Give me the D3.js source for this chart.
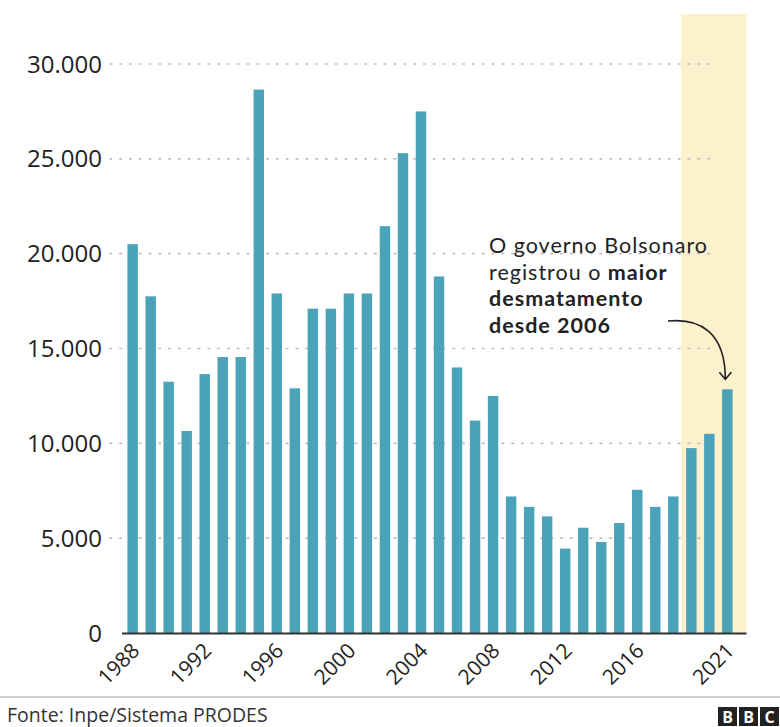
<!DOCTYPE html>
<html>
<head>
<meta charset="utf-8">
<script src="https://cdn.jsdelivr.net/npm/d3@7"></script>
<style>
  body { margin: 0; background: #fff; }
  text { font-family: "Open Sans", "Noto Sans", sans-serif; }
</style>
</head>
<body>
<script>
// desmatamento anual na Amazônia Legal (km²)
const years = d3.range(1988, 2022);
const values = [20500, 17750, 13250, 10650, 13650, 14550, 14550, 28650, 17900, 12900,
  17100, 17100, 17900, 17900, 21450, 25300, 27500, 18800, 14000, 11200,
  12500, 7200, 6650, 6150, 4450, 5550, 4800, 5800, 7550, 6650,
  7200, 9750, 10500, 12850];
const yTicks = [0, 5000, 10000, 15000, 20000, 25000, 30000];
const xLabels = [1988, 1992, 1996, 2000, 2004, 2008, 2012, 2016, 2021];
const highlight = [2019, 2021];
const noteLines = [
  [["O governo Bolsonaro", false]],
  [["registrou o ", false], ["maior", true]],
  [["desmatamento", true]],
  [["desde 2006", true]]
];
const source = "Fonte: Inpe/Sistema PRODES";

const width = 780, height = 727;
const svg = d3.select("body").append("svg")
  .attr("width", width)
  .attr("height", height);

const x = d3.scaleBand()
  .domain(years)
  .range([122, 738])
  .paddingInner(0.42)
  .paddingOuter(0.3);

const y = d3.scaleLinear()
  .domain([0, 30000])
  .range([633, 64]);

const fmt = d3.formatLocale({ decimal: ",", thousands: ".", grouping: [3], currency: ["", ""] }).format(",d");

// faixa do governo Bolsonaro
const step = x.step();
const hx0 = x(highlight[0]) - step * 0.5 + 4;
const hx1 = x(highlight[1]) + x.bandwidth() + step * 0.55 + 4;
svg.append("rect")
  .attr("x", hx0)
  .attr("y", 14)
  .attr("width", hx1 - hx0)
  .attr("height", y(0) - 14)
  .attr("fill", "#fdf0cc");

// grade pontilhada
svg.append("g")
  .selectAll("line")
  .data(yTicks.filter(d => d > 0))
  .join("line")
  .attr("x1", 110)
  .attr("x2", 716)
  .attr("y1", d => y(d))
  .attr("y2", d => y(d))
  .attr("stroke", "#bdbdbd")
  .attr("stroke-width", 1.6)
  .attr("stroke-dasharray", "1.6,8.2")
  .attr("stroke-linecap", "round");

// rótulos do eixo y
svg.append("g")
  .selectAll("text")
  .data(yTicks)
  .join("text")
  .attr("x", 102)
  .attr("y", d => y(d))
  .attr("dy", "0.36em")
  .attr("text-anchor", "end")
  .attr("font-size", 24)
  .attr("fill", "#222")
  .text(d => fmt(d));

// barras
svg.append("g")
  .selectAll("rect")
  .data(values)
  .join("rect")
  .attr("x", (d, i) => x(years[i]))
  .attr("y", d => y(d))
  .attr("width", x.bandwidth())
  .attr("height", d => y(0) - y(d))
  .attr("fill", "#4aa3b9");

// linha de base
svg.append("line")
  .attr("x1", 122)
  .attr("x2", hx1)
  .attr("y1", y(0) + 0.5)
  .attr("y2", y(0) + 0.5)
  .attr("stroke", "#333")
  .attr("stroke-width", 2);

// rótulos do eixo x
svg.append("g")
  .selectAll("text")
  .data(xLabels)
  .join("text")
  .attr("transform", d => `translate(${x(d) + x.bandwidth() / 2 + 8},${y(0) + 19}) rotate(-45)`)
  .attr("text-anchor", "end")
  .attr("font-size", 21)
  .attr("fill", "#222")
  .text(d => d);

// anotação, uma linha por elemento (Lato: caixa de linha mais baixa)
noteLines.forEach((line, i) => {
  const t = svg.append("text")
    .attr("x", 489)
    .attr("y", 253 + i * 26.5)
    .style("font-family", "Lato, 'Open Sans', sans-serif")
    .style("letter-spacing", "1px")
    .attr("font-size", 21.5)
    .attr("fill", "#222");
  line.forEach(([s, bold]) => {
    t.append("tspan")
      .attr("font-weight", bold ? "bold" : "normal")
      .text(s);
  });
});

const last = years.length - 1;
const ax = x(years[last]) + x.bandwidth() / 2;
const ay = y(values[last]);
svg.append("path")
  .attr("d", `M668,321 C700,318 ${ax - 2},332 ${ax - 2},${ay - 10}`)
  .attr("fill", "none")
  .attr("stroke", "#222")
  .attr("stroke-width", 1.6);
svg.append("path")
  .attr("d", `M${ax - 8},${ay - 17} L${ax - 2},${ay - 10} L${ax + 4},${ay - 17}`)
  .attr("fill", "none")
  .attr("stroke", "#222")
  .attr("stroke-width", 1.6);

// rodapé
svg.append("line")
  .attr("x1", 0)
  .attr("x2", width)
  .attr("y1", 697)
  .attr("y2", 697)
  .attr("stroke", "#cfcfcf")
  .attr("stroke-width", 2);

svg.append("text")
  .attr("x", 7)
  .attr("y", 722)
  .attr("font-size", 19.5)
  .attr("fill", "#333")
  .text(source);

const logo = svg.append("g").attr("transform", "translate(718,707)");
["B", "B", "C"].forEach((l, i) => {
  logo.append("rect")
    .attr("x", i * 21)
    .attr("y", 0)
    .attr("width", 19)
    .attr("height", 19)
    .attr("fill", "#222");
  logo.append("text")
    .attr("x", i * 21 + 9.5)
    .attr("y", 16)
    .attr("text-anchor", "middle")
    .attr("font-size", 16)
    .attr("font-weight", "bold")
    .attr("fill", "#fff")
    .text(l);
});
</script>
</body>
</html>
